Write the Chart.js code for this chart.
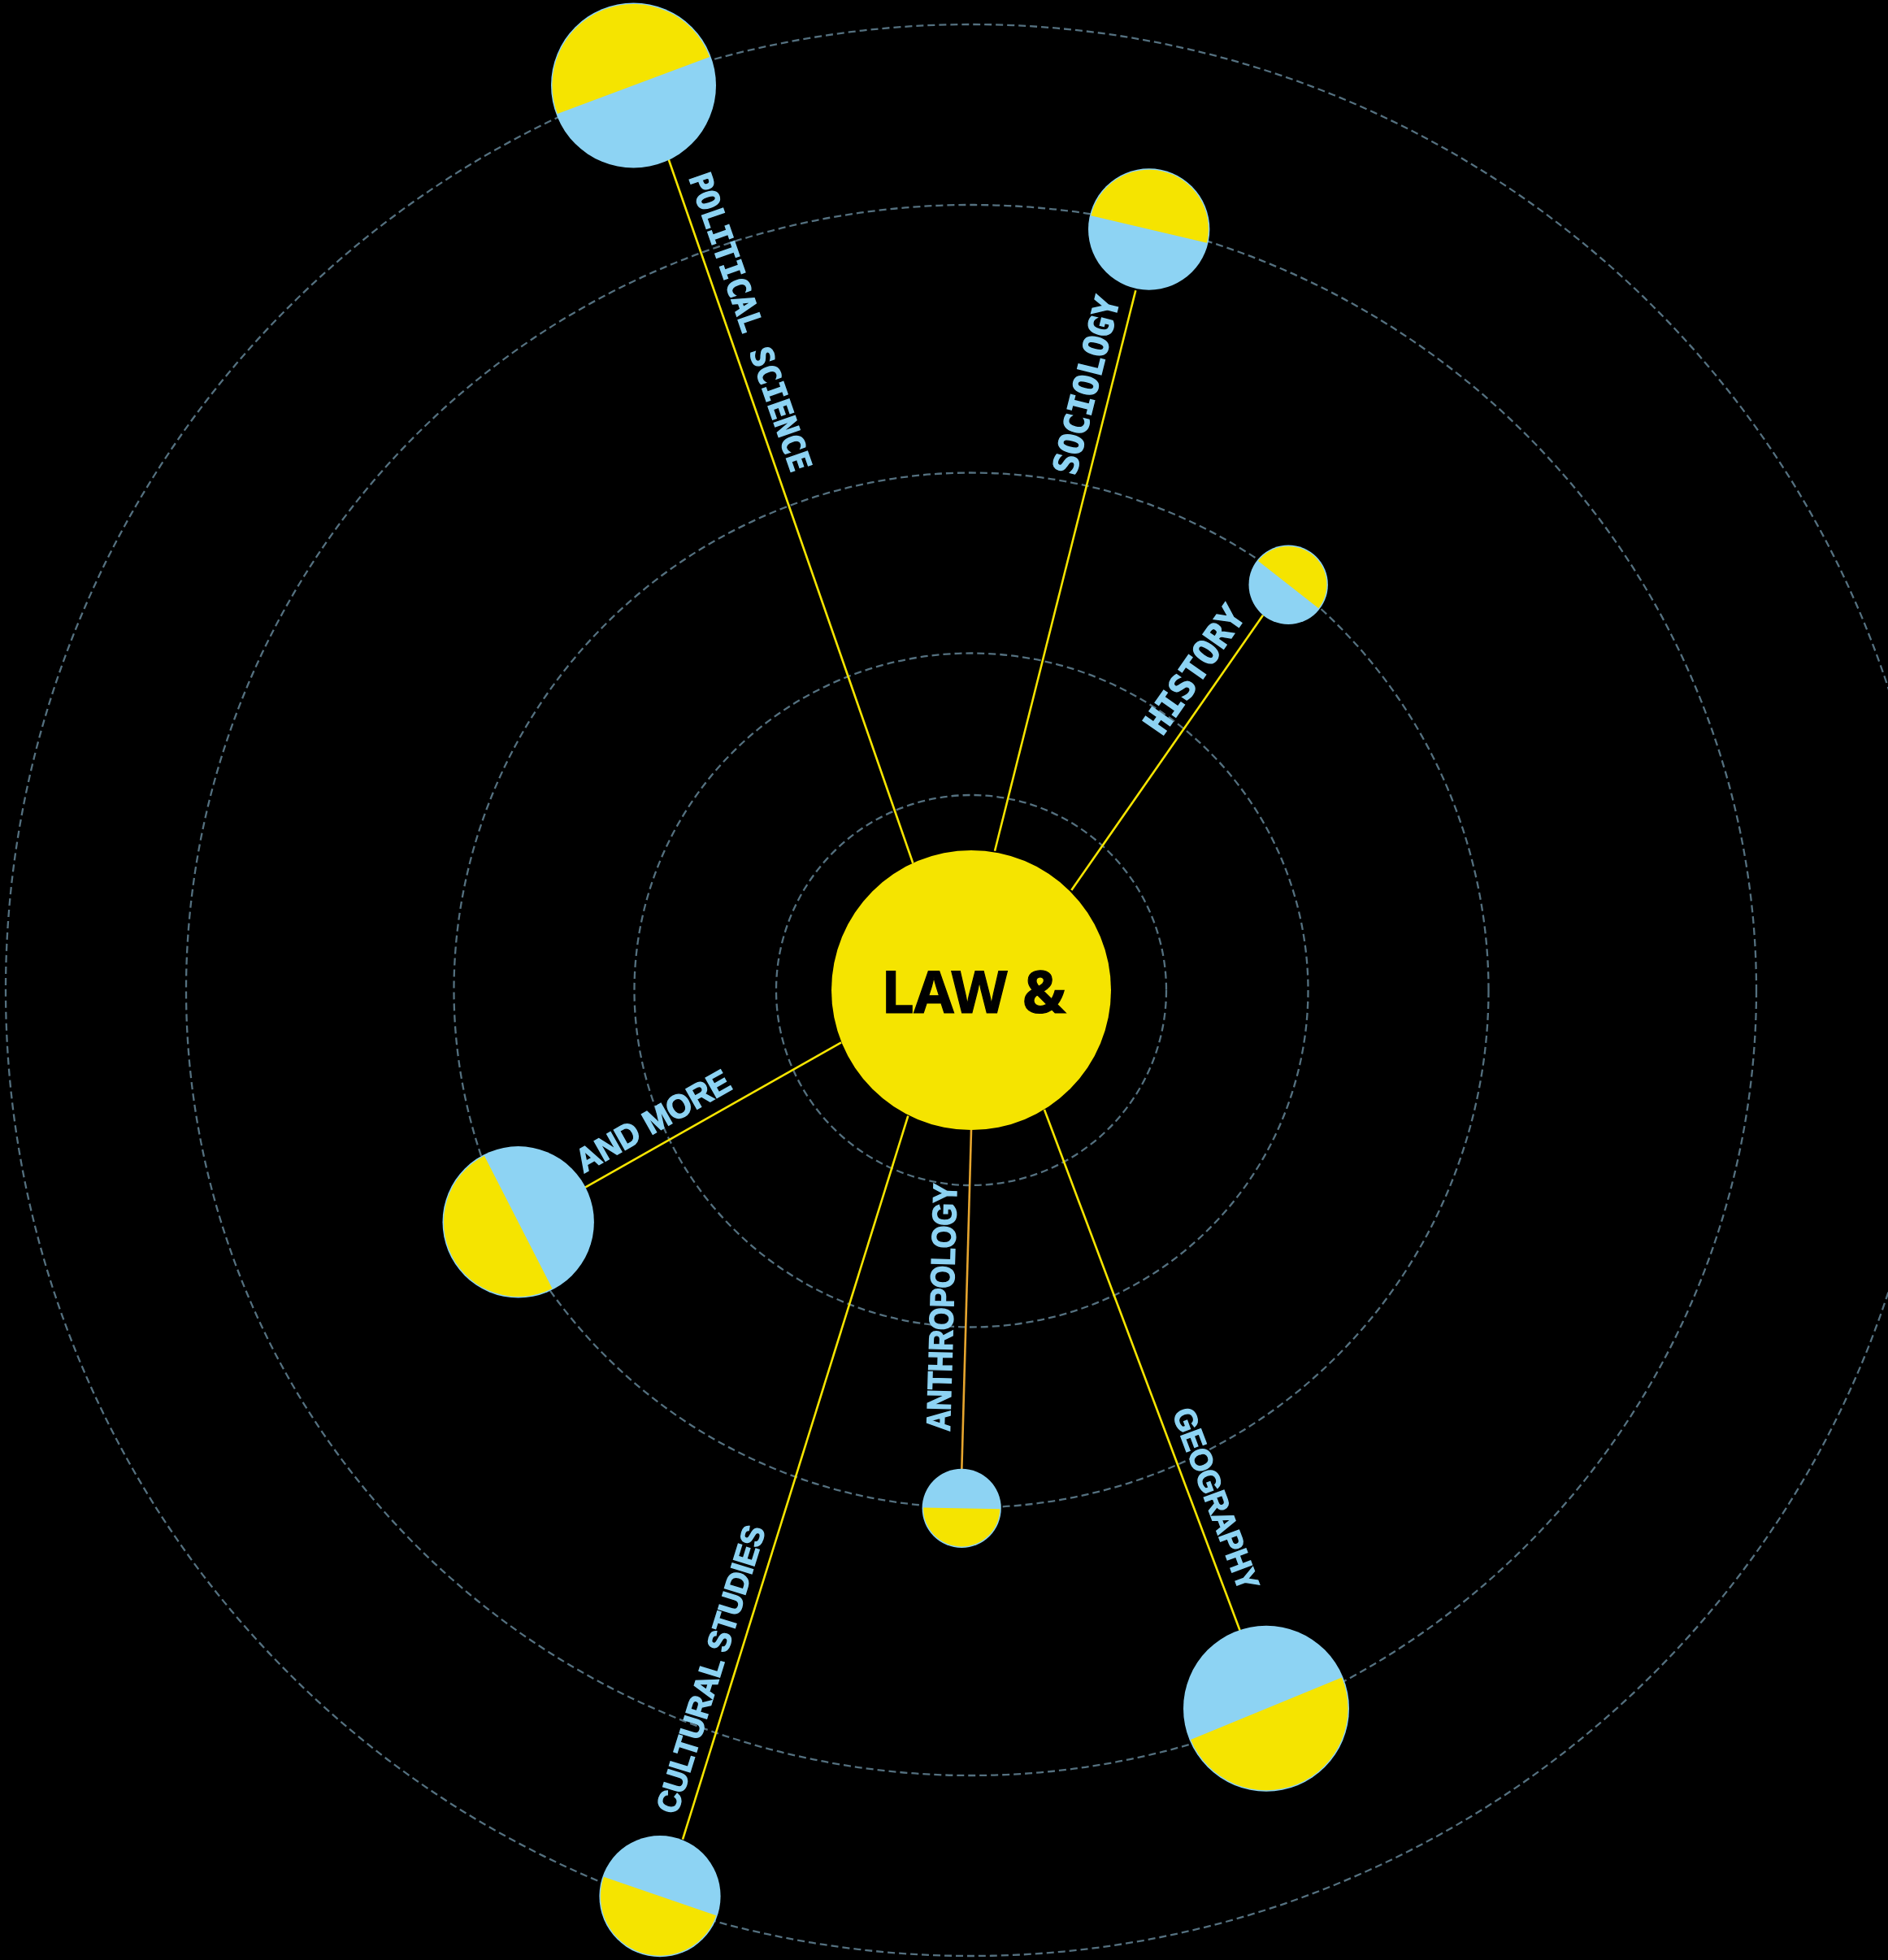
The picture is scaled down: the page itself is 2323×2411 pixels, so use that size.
<!DOCTYPE html>
<html lang="en">
<head>
<meta charset="UTF-8">
<title>Law &amp;</title>
<script src="https://cdn.jsdelivr.net/npm/chart.js"></script>
<style>
    html, body { margin: 0; padding: 0; background: #000; }
    #wrap { width: 2323px; height: 2411px; }
</style>
</head>
<body>
<div id="wrap"><canvas id="orbits" width="2323" height="2411"></canvas></div>
<script>
// values are in picture units (origin top left, y down)
const hubLabel = 'LAW &';
const hubX = 1195, hubY = 1218, hubR = 172;

const ringRadius = [240, 414.5, 636.5, 966, 1188];

const fields = ['POLITICAL SCIENCE', 'SOCIOLOGY', 'HISTORY', 'AND MORE', 'ANTHROPOLOGY', 'GEOGRAPHY', 'CULTURAL STUDIES'];
const planetX = [779.5, 1413.7, 1585.2, 637.7, 1183.2, 1558, 812];
const planetY = [105, 282, 719.2, 1503.3, 1855.3, 2101.7, 2332.6];
const planetR = [101.5, 74.7, 48.7, 93.2, 48.6, 102, 74.6];

// connecting lines: end on the hub and end on the planet
const linkInnerX = [1123.3, 1224, 1318.3, 1035, 1195, 1285, 1117.3];
const linkInnerY = [1061.7, 1046.7, 1095, 1282.3, 1390, 1365, 1372.7];
const linkOuterX = [821.7, 1397.3, 1554, 720, 1183.3, 1526, 840];
const linkOuterY = [193.3, 357.3, 756.7, 1460.7, 1808.3, 2006.7, 2262.7];

// label layout (not data)
const labelGap = [32, 16, 13, 7, 47, 45, 26];
const labelLength = [386, 224, 181, 212, 305, 236, 368];
const labelMono = [true, true, true, false, false, false, false];
const labelStretch = [1, 1, 1, 1.05, 1.15, 1.05, 1.05];

const YELLOW = '#f5e400';
const BLUE = '#8dd3f3';
const ORANGE = '#e6a52e';
const RING = '#54707f';

const linkSets = fields.map((f, i) => ({
    label: f + ' link',
    data: [{ x: linkInnerX[i], y: linkInnerY[i] }, { x: linkOuterX[i], y: linkOuterY[i] }],
    showLine: true,
    borderColor: f === 'ANTHROPOLOGY' ? ORANGE : YELLOW,
    borderWidth: 2.6,
    pointRadius: 0,
    order: 3
}));

function pxRadius(chart, x, r) {
    const s = chart.scales.x;
    return s.getPixelForValue(x + r) - s.getPixelForValue(x);
}

const ringsPlugin = {
    id: 'rings',
    beforeDatasetsDraw(chart) {
        const { ctx, scales: { x, y } } = chart;
        const cx = x.getPixelForValue(hubX), cy = y.getPixelForValue(hubY);
        ctx.save();
        ctx.strokeStyle = RING;
        ctx.lineWidth = 2.3;
        ctx.setLineDash([9, 5]);
        ringRadius.forEach(r => {
            ctx.beginPath();
            ctx.arc(cx, cy, pxRadius(chart, hubX, r), 0, Math.PI * 2);
            ctx.stroke();
        });
        ctx.restore();
    }
};

const decorPlugin = {
    id: 'decor',
    afterDatasetsDraw(chart) {
        const { ctx, scales: { x, y } } = chart;
        const hx = x.getPixelForValue(hubX), hy = y.getPixelForValue(hubY);
        const planets = chart.getDatasetMeta(chart.data.datasets.length - 1).data;
        ctx.save();
        // yellow outer half of every planet
        planets.forEach((pt, i) => {
            const r = pxRadius(chart, planetX[i], planetR[i]) - 1.5;
            const a = Math.atan2(pt.y - hy, pt.x - hx);
            ctx.beginPath();
            ctx.arc(pt.x, pt.y, r, a - Math.PI / 2, a + Math.PI / 2);
            ctx.closePath();
            ctx.fillStyle = YELLOW;
            ctx.fill();
        });
        // hub title
        ctx.fillStyle = '#000';
        ctx.strokeStyle = '#000';
        ctx.lineWidth = 1.2;
        ctx.font = 'bold 71px "Noto Sans"';
        ctx.textAlign = 'center';
        ctx.textBaseline = 'alphabetic';
        ctx.fillText(hubLabel, hx + 3, hy + 28);
        ctx.strokeText(hubLabel, hx + 3, hy + 28);
        // field labels along their lines
        fields.forEach((f, i) => {
            const ox = x.getPixelForValue(linkOuterX[i]), oy = y.getPixelForValue(linkOuterY[i]);
            const ix = x.getPixelForValue(linkInnerX[i]), iy = y.getPixelForValue(linkInnerY[i]);
            const len = Math.hypot(ix - ox, iy - oy);
            const ux = (ix - ox) / len, uy = (iy - oy) / len;
            const fwd = ux >= 0;
            const dx = fwd ? ux : -ux, dy = fwd ? uy : -uy;
            const family = labelMono[i] ? '"DejaVu Sans Mono"' : '"Liberation Sans"';
            ctx.font = 'bold 100px ' + family;
            const size = 100 * labelLength[i] / ctx.measureText(f).width;
            ctx.font = 'bold ' + size.toFixed(1) + 'px ' + family;
            const off = 16;
            const ax = ox + ux * labelGap[i] + dy * off;
            const ay = oy + uy * labelGap[i] - dx * off;
            ctx.save();
            ctx.translate(ax, ay);
            ctx.rotate(Math.atan2(dy, dx));
            ctx.scale(1, labelStretch[i]);
            ctx.fillStyle = BLUE;
            ctx.strokeStyle = BLUE;
            ctx.lineWidth = 1.4;
            ctx.textAlign = fwd ? 'left' : 'right';
            ctx.textBaseline = 'alphabetic';
            ctx.fillText(f, 0, 0);
            ctx.strokeText(f, 0, 0);
            ctx.restore();
        });
        ctx.restore();
    }
};

new Chart(document.getElementById('orbits'), {
    type: 'scatter',
    data: {
        datasets: [
            ...linkSets,
            {
                label: hubLabel,
                data: [{ x: hubX, y: hubY }],
                backgroundColor: YELLOW,
                borderWidth: 0,
                pointRadius: ctx => pxRadius(ctx.chart, hubX, hubR),
                order: 2
            },
            {
                label: 'fields',
                data: planetX.map((v, i) => ({ x: v, y: planetY[i] })),
                backgroundColor: BLUE,
                borderWidth: 0,
                pointRadius: ctx => pxRadius(ctx.chart, planetX[ctx.dataIndex], planetR[ctx.dataIndex]),
                order: 1
            }
        ]
    },
    options: {
        responsive: false,
        devicePixelRatio: 1,
        animation: false,
        events: [],
        layout: { padding: 0 },
        plugins: { legend: { display: false }, tooltip: { enabled: false } },
        scales: {
            x: { type: 'linear', min: 0, max: 2323, display: false },
            y: { type: 'linear', min: 0, max: 2411, reverse: true, display: false }
        }
    },
    plugins: [ringsPlugin, decorPlugin]
});
</script>
</body>
</html>
